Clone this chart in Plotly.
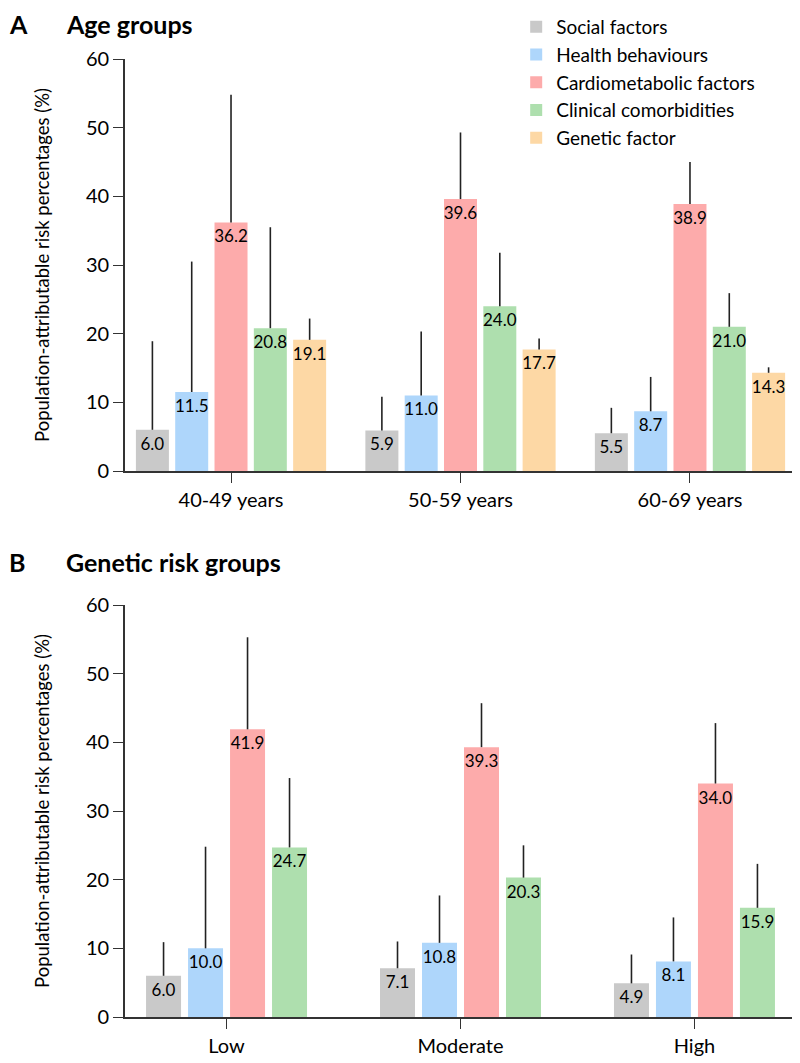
import plotly.graph_objects as go
from plotly.subplots import make_subplots

factors = ["Social factors", "Health behaviours", "Cardiometabolic factors",
           "Clinical comorbidities", "Genetic factor"]
colors = ["#c9c9c9", "#aed6fb", "#fdabab", "#aedfae", "#fdd8a5"]

age_groups = ["40-49 years", "50-59 years", "60-69 years"]
age_values = [
    [6.0, 5.9, 5.5],
    [11.5, 11.0, 8.7],
    [36.2, 39.6, 38.9],
    [20.8, 24.0, 21.0],
    [19.1, 17.7, 14.3],
]
age_upper = [
    [18.9, 10.8, 9.2],
    [30.5, 20.3, 13.7],
    [54.8, 49.3, 45.0],
    [35.5, 31.8, 25.9],
    [22.2, 19.3, 15.1],
]

gen_groups = ["Low", "Moderate", "High"]
gen_values = [
    [6.0, 7.1, 4.9],
    [10.0, 10.8, 8.1],
    [41.9, 39.3, 34.0],
    [24.7, 20.3, 15.9],
]
gen_upper = [
    [10.9, 11.0, 9.1],
    [24.8, 17.7, 14.5],
    [55.3, 45.7, 42.8],
    [34.8, 25.0, 22.3],
]

FONT = "Lato"
W, H = 792, 1055   # page body has an 8px margin
L, PW = 117, 671

fig = make_subplots(rows=2, cols=1)


def add_panel(row, cats, values, upper, slot, width):
    n = len(values)
    for i, vals in enumerate(values):
        fig.add_trace(go.Bar(
            x=cats, y=vals, name=factors[i],
            marker=dict(color=colors[i], line=dict(width=0)),
            width=width,
            offset=(i - (n - 1) / 2) * slot - width / 2,
            text=[f"{v:.1f}" for v in vals],
            textposition="inside", insidetextanchor="end", textangle=0,
            constraintext="none",
            textfont=dict(family=FONT, size=17, color="black"),
            error_y=dict(type="data", symmetric=False,
                         array=[u - v for u, v in zip(upper[i], vals)],
                         arrayminus=[0] * len(vals),
                         width=0, thickness=1.6, color="#222222"),
            legendgroup=factors[i], showlegend=(row == 1),
            hoverinfo="skip",
        ), row=row, col=1)


add_panel(1, age_groups, age_values, age_upper, 0.1713, 0.1438)
add_panel(2, gen_groups, gen_values, gen_upper, 0.1795, 0.1496)

axis_common = dict(showline=True, linecolor="#333333", linewidth=1.6,
                   ticks="outside", ticklen=10, tickwidth=1.4, tickcolor="#333333",
                   showgrid=False, zeroline=False, automargin=False)

fig.update_xaxes(**axis_common, tickfont=dict(family=FONT, size=20, color="black"))
fig.update_yaxes(**axis_common, range=[0, 60], tickvals=[0, 10, 20, 30, 40, 50, 60],
                 tickfont=dict(family=FONT, size=20, color="black"),
                 title=dict(text="Population-attributable risk percentages (%)",
                            font=dict(family=FONT, size=18.5, color="black"),
                            standoff=32))
fig.update_xaxes(range=[-0.462, 2.462], row=1, col=1)
fig.update_xaxes(range=[-0.434, 2.434], row=2, col=1)
fig.update_layout(
    xaxis=dict(domain=[0, 1]),
    yaxis=dict(domain=[(H - 463) / H, (H - 51) / H]),
    xaxis2=dict(domain=[0, 1]),
    yaxis2=dict(domain=[(H - 1009) / H, (H - 597) / H]),
)

title_font = dict(family=FONT, size=25, color="black")
for label, title, ytop in [("A", "Age groups", 0), ("B", "Genetic risk groups", 538)]:
    fig.add_annotation(text=f"<b>{label}</b>", xref="paper", yref="paper",
                       x=(0 - L) / PW, y=(H - ytop) / H, xanchor="left", yanchor="top",
                       showarrow=False, font=title_font, borderpad=0)
    fig.add_annotation(text=f"<b>{title}</b>", xref="paper", yref="paper",
                       x=(57 - L) / PW, y=(H - ytop) / H, xanchor="left", yanchor="top",
                       showarrow=False, font=title_font, borderpad=0)

fig.update_layout(
    width=W, height=H,
    margin=dict(l=L, r=W - L - PW, t=0, b=0),
    barmode="overlay",
    plot_bgcolor="white", paper_bgcolor="white",
    font=dict(family=FONT, color="black"),
    legend=dict(x=0.583, y=1.0, xanchor="left", yanchor="top",
                font=dict(family=FONT, size=19, color="black"),
                bgcolor="rgba(0,0,0,0)", tracegroupgap=0, traceorder="normal"),
)

fig.write_html("out.html")
